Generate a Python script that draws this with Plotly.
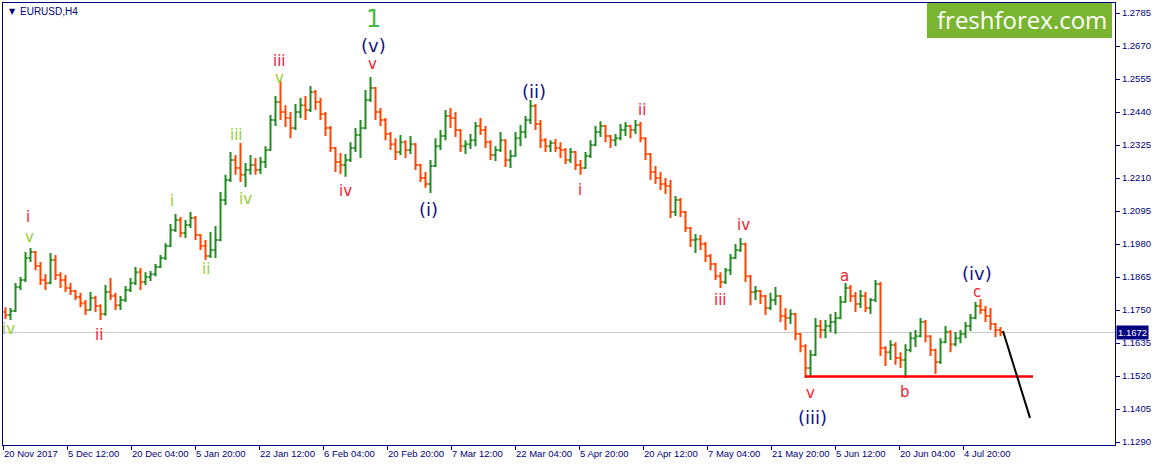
import plotly.graph_objects as go
import numpy as np

symbol = "EURUSD,H4"

# Aggregated bars (each bar = 5 H4 periods)
closes = [
    1.1733, 1.1747, 1.1830, 1.1855, 1.1931, 1.1952, 1.1903, 1.1855, 1.1844, 1.1924,
    1.1872, 1.1855, 1.1827, 1.1816, 1.1795, 1.1774, 1.1750, 1.1792, 1.1764, 1.1736,
    1.1813, 1.1799, 1.1767, 1.1785, 1.1820, 1.1844, 1.1882, 1.1848, 1.1865, 1.1875,
    1.1900, 1.1931, 1.1973, 1.2029, 1.2064, 1.2018, 1.2046, 1.2071, 1.2011, 1.1973,
    1.1938, 1.1959, 1.1994, 1.2133, 1.2203, 1.2273, 1.2245, 1.2221, 1.2238, 1.2255,
    1.2238, 1.2266, 1.2308, 1.2412, 1.2475, 1.2440, 1.2419, 1.2384, 1.2440, 1.2464,
    1.2447, 1.2510, 1.2475, 1.2433, 1.2384, 1.2315, 1.2266, 1.2255, 1.2273, 1.2315,
    1.2360, 1.2384, 1.2482, 1.2524, 1.2440, 1.2412, 1.2363, 1.2328, 1.2301, 1.2335,
    1.2308, 1.2328, 1.2255, 1.2210, 1.2189, 1.2252, 1.2321, 1.2356, 1.2426, 1.2419,
    1.2377, 1.2321, 1.2328, 1.2342, 1.2391, 1.2377, 1.2335, 1.2290, 1.2308, 1.2342,
    1.2273, 1.2287, 1.2349, 1.2370, 1.2412, 1.2461, 1.2398, 1.2342, 1.2321, 1.2332,
    1.2315, 1.2308, 1.2273, 1.2301, 1.2255, 1.2245, 1.2287, 1.2325, 1.2370, 1.2391,
    1.2356, 1.2342, 1.2349, 1.2377, 1.2391, 1.2377, 1.2395, 1.2349, 1.2294, 1.2231,
    1.2210, 1.2189, 1.2182, 1.2092, 1.2133, 1.2092, 1.2036, 1.1994, 1.1997, 1.1980,
    1.1938, 1.1910, 1.1868, 1.1848, 1.1889, 1.1931, 1.1959, 1.1980, 1.1868, 1.1813,
    1.1816, 1.1799, 1.1757, 1.1785, 1.1799, 1.1729, 1.1722, 1.1736, 1.1666, 1.1624,
    1.1548, 1.1593, 1.1694, 1.1680, 1.1694, 1.1708, 1.1722, 1.1778, 1.1827, 1.1799,
    1.1771, 1.1799, 1.1757, 1.1785, 1.1841, 1.1618, 1.1603, 1.1628, 1.1583, 1.1576,
    1.1611, 1.1652, 1.1659, 1.1708, 1.1659, 1.1611, 1.1569, 1.1638, 1.1673, 1.1631,
    1.1652, 1.1666, 1.1694, 1.1722, 1.1764, 1.1750, 1.1729, 1.1701, 1.1680, 1.1672,
]
highs = [
    1.1760, 1.1757, 1.1844, 1.1865, 1.1952, 1.1966, 1.1956, 1.1917, 1.1875, 1.1949,
    1.1942, 1.1882, 1.1872, 1.1844, 1.1820, 1.1810, 1.1785, 1.1813, 1.1800, 1.1770,
    1.1837, 1.1862, 1.1810, 1.1799, 1.1834, 1.1862, 1.1900, 1.1896, 1.1882, 1.1886,
    1.1910, 1.1942, 1.1983, 1.2050, 1.2085, 1.2074, 1.2064, 1.2092, 1.2078, 1.2015,
    1.1994, 1.2022, 1.2043, 1.2161, 1.2221, 1.2301, 1.2290, 1.2332, 1.2262, 1.2290,
    1.2280, 1.2283, 1.2321, 1.2430, 1.2496, 1.2548, 1.2464, 1.2440, 1.2468, 1.2489,
    1.2496, 1.2531, 1.2517, 1.2489, 1.2440, 1.2391, 1.2318, 1.2297, 1.2294, 1.2335,
    1.2384, 1.2412, 1.2517, 1.2562, 1.2527, 1.2454, 1.2419, 1.2370, 1.2349, 1.2360,
    1.2342, 1.2356, 1.2332, 1.2259, 1.2231, 1.2273, 1.2349, 1.2377, 1.2447, 1.2454,
    1.2440, 1.2380, 1.2342, 1.2363, 1.2405, 1.2419, 1.2391, 1.2342, 1.2321, 1.2370,
    1.2345, 1.2308, 1.2370, 1.2395, 1.2426, 1.2482, 1.2468, 1.2412, 1.2349, 1.2342,
    1.2346, 1.2335, 1.2315, 1.2315, 1.2304, 1.2273, 1.2301, 1.2342, 1.2391, 1.2408,
    1.2395, 1.2360, 1.2363, 1.2398, 1.2405, 1.2395, 1.2412, 1.2405, 1.2352, 1.2297,
    1.2252, 1.2231, 1.2210, 1.2203, 1.2147, 1.2140, 1.2095, 1.2039, 1.2015, 1.2011,
    1.1987, 1.1945, 1.1914, 1.1882, 1.1896, 1.1945, 1.1980, 1.2001, 1.1984, 1.1872,
    1.1834, 1.1820, 1.1802, 1.1810, 1.1830, 1.1802, 1.1757, 1.1753, 1.1740, 1.1670,
    1.1631, 1.1611, 1.1722, 1.1715, 1.1715, 1.1736, 1.1743, 1.1799, 1.1844, 1.1837,
    1.1813, 1.1820, 1.1813, 1.1792, 1.1855, 1.1848, 1.1624, 1.1645, 1.1638, 1.1603,
    1.1631, 1.1673, 1.1680, 1.1722, 1.1715, 1.1662, 1.1615, 1.1652, 1.1694, 1.1680,
    1.1673, 1.1680, 1.1708, 1.1736, 1.1778, 1.1788, 1.1764, 1.1757, 1.1705, 1.1691,
]
lows = [
    1.1719, 1.1715, 1.1743, 1.1820, 1.1848, 1.1917, 1.1889, 1.1837, 1.1820, 1.1840,
    1.1855, 1.1827, 1.1813, 1.1802, 1.1785, 1.1760, 1.1733, 1.1748, 1.1743, 1.1715,
    1.1730, 1.1785, 1.1750, 1.1750, 1.1778, 1.1813, 1.1837, 1.1820, 1.1837, 1.1851,
    1.1868, 1.1896, 1.1924, 1.1970, 1.2022, 1.2004, 1.2001, 1.2036, 1.1994, 1.1959,
    1.1924, 1.1931, 1.1931, 1.1990, 1.2116, 1.2196, 1.2221, 1.2196, 1.2179, 1.2221,
    1.2221, 1.2224, 1.2245, 1.2305, 1.2391, 1.2412, 1.2388, 1.2349, 1.2377, 1.2419,
    1.2412, 1.2440, 1.2447, 1.2412, 1.2356, 1.2301, 1.2231, 1.2224, 1.2214, 1.2266,
    1.2301, 1.2280, 1.2380, 1.2475, 1.2412, 1.2391, 1.2342, 1.2308, 1.2273, 1.2290,
    1.2280, 1.2294, 1.2238, 1.2196, 1.2176, 1.2158, 1.2248, 1.2308, 1.2342, 1.2384,
    1.2353, 1.2301, 1.2294, 1.2311, 1.2321, 1.2360, 1.2315, 1.2273, 1.2269, 1.2301,
    1.2248, 1.2245, 1.2284, 1.2321, 1.2349, 1.2398, 1.2377, 1.2315, 1.2301, 1.2301,
    1.2301, 1.2280, 1.2259, 1.2262, 1.2238, 1.2221, 1.2242, 1.2280, 1.2321, 1.2353,
    1.2335, 1.2315, 1.2321, 1.2342, 1.2356, 1.2349, 1.2363, 1.2335, 1.2273, 1.2203,
    1.2189, 1.2168, 1.2154, 1.2071, 1.2078, 1.2074, 1.2022, 1.1970, 1.1949, 1.1959,
    1.1917, 1.1889, 1.1855, 1.1827, 1.1841, 1.1872, 1.1928, 1.1952, 1.1848, 1.1767,
    1.1785, 1.1771, 1.1733, 1.1750, 1.1767, 1.1708, 1.1680, 1.1701, 1.1645, 1.1603,
    1.1513, 1.1520, 1.1590, 1.1652, 1.1652, 1.1673, 1.1666, 1.1718, 1.1775, 1.1778,
    1.1743, 1.1757, 1.1743, 1.1736, 1.1778, 1.1590, 1.1555, 1.1576, 1.1559, 1.1548,
    1.1513, 1.1603, 1.1621, 1.1655, 1.1638, 1.1590, 1.1527, 1.1562, 1.1634, 1.1603,
    1.1624, 1.1634, 1.1652, 1.1677, 1.1718, 1.1736, 1.1708, 1.1680, 1.1655, 1.1659,
]
first_open = 1.1743
opens = [first_open] + closes[:-1]

# time axis: H4 bar numbers; each stored bar covers 5 H4 periods
h4_per_bar = 5
date_labels = ["20 Nov 2017", "5 Dec 12:00", "20 Dec 04:00", "5 Jan 20:00", "22 Jan 12:00",
               "6 Feb 04:00", "20 Feb 20:00", "7 Mar 12:00", "22 Mar 04:00", "5 Apr 20:00",
               "20 Apr 12:00", "7 May 04:00", "21 May 20:00", "5 Jun 12:00", "20 Jun 04:00",
               "4 Jul 20:00"]
date_label_bars = [0, 64, 128, 192, 256, 320, 384, 448, 512, 576, 640, 704, 768, 832, 896, 960]
price_ticks = [1.2785, 1.2670, 1.2555, 1.2440, 1.2325, 1.2210, 1.2095, 1.1980,
               1.1865, 1.1750, 1.1635, 1.1520, 1.1405, 1.1290]
last_price = 1.1672

support_level = 1.1518
support_bars = [802, 1030]
forecast_bars = [1000, 1027]
forecast_prices = [1.1677, 1.1374]

# wave labels: (H4 bar, price, text, style)
wave_labels = [
    (5, 1.1684, "iv", "g"), (26, 1.2004, "v", "g"), (25, 1.2074, "i", "r"),
    (96, 1.1663, "ii", "r"), (169, 1.2130, "i", "g"), (203, 1.1893, "ii", "g"),
    (233, 1.2360, "iii", "g"), (242, 1.2137, "iv", "g"), (276, 1.2617, "iii", "r"),
    (276, 1.2560, "v", "g"), (342, 1.2165, "iv", "r"), (370, 1.2764, "1", "big"),
    (370, 1.2673, "(v)", "n"), (369, 1.2607, "v", "r"), (425, 1.2099, "(i)", "n"),
    (531, 1.2513, "(ii)", "n"), (577, 1.2168, "i", "r"), (639, 1.2447, "ii", "r"),
    (740, 1.2046, "iv", "r"), (717, 1.1785, "iii", "r"), (807, 1.1461, "v", "r"),
    (809, 1.1377, "(iii)", "n"), (841, 1.1868, "a", "r"), (902, 1.1464, "b", "r"),
    (974, 1.1813, "c", "r"), (974, 1.1879, "(iv)", "n"),
]

label_styles = {
    "g": dict(color="#9ACD32", size=15),
    "r": dict(color="#F5202E", size=15),
    "n": dict(color="#14148C", size=18),
    "big": dict(color="#44B944", size=24),
}

NAVY = "#000080"
x = np.arange(len(closes)) * h4_per_bar + h4_per_bar / 2

fig = go.Figure()
fig.add_trace(go.Ohlc(
    x=x, open=opens, high=highs, low=lows, close=closes,
    increasing=dict(line=dict(color="#228B22", width=2.0)),
    decreasing=dict(line=dict(color="#FF4500", width=2.0)),
    tickwidth=0.42, hoverinfo="skip", showlegend=False,
))
fig.add_trace(go.Scatter(
    x=support_bars, y=[support_level, support_level], mode="lines",
    line=dict(color="#FF0000", width=2.5), showlegend=False, hoverinfo="skip"))
fig.add_trace(go.Scatter(
    x=forecast_bars, y=forecast_prices, mode="lines",
    line=dict(color="#000000", width=2), showlegend=False, hoverinfo="skip"))

shapes = [
    dict(type="line", xref="paper", yref="y", x0=0, x1=1, y0=last_price, y1=last_price,
         line=dict(color="#C8C8C8", width=1), layer="below"),
    dict(type="rect", xref="paper", yref="paper", x0=0.8309, x1=0.9973, y0=0.9208, y1=1.0,
         fillcolor="#7AB531", line=dict(width=0), layer="above"),
]

annotations = []
for bar, price, text, st in wave_labels:
    s = label_styles[st]
    annotations.append(dict(x=bar, y=price, xref="x", yref="y", text=text, showarrow=False,
                            font=dict(family="DejaVu Sans", size=s["size"], color=s["color"]),
                            xanchor="center", yanchor="middle"))
annotations += [
    dict(xref="paper", yref="paper", x=0.9164, y=0.9625, text="freshforex.com", showarrow=False,
         font=dict(family="Open Sans", size=24, color="white"), xanchor="center", yanchor="middle"),
    dict(xref="paper", yref="paper", x=0.0036, y=0.981, text="▼", showarrow=False,
         font=dict(family="DejaVu Sans", size=8, color=NAVY), xanchor="left", yanchor="middle"),
    dict(xref="paper", yref="paper", x=0.0135, y=0.981, text=symbol, showarrow=False,
         font=dict(family="Liberation Sans", size=10, color=NAVY), xanchor="left", yanchor="middle"),
    dict(xref="paper", yref="y", x=1, y=last_price, text=f"{last_price:.4f}", showarrow=False,
         font=dict(family="Liberation Sans", size=9.5, color="white"), bgcolor=NAVY,
         xanchor="left", yanchor="middle", xshift=1, borderpad=1),
]

fig.update_layout(
    width=1155, height=466,
    margin=dict(l=3, r=40, t=3, b=21),
    paper_bgcolor="white", plot_bgcolor="white",
    shapes=shapes, annotations=annotations,
    showlegend=False,
    xaxis=dict(range=[0, 1112], showgrid=False, zeroline=False,
               showline=True, linecolor=NAVY, linewidth=1, mirror=True,
               tickmode="array", tickvals=date_label_bars, ticktext=date_labels,
               ticks="outside", ticklen=4, tickcolor=NAVY, tickangle=0,
               ticklabelposition="outside right",
               tickfont=dict(family="Liberation Sans", size=9.5, color=NAVY),
               rangeslider=dict(visible=False), fixedrange=True),
    yaxis=dict(range=[1.12796, 1.28199], side="right", showgrid=False, zeroline=False,
               showline=True, linecolor=NAVY, linewidth=1, mirror=True,
               tickmode="array", tickvals=price_ticks,
               ticktext=[f"{v:.4f}" for v in price_ticks],
               ticks="outside", ticklen=4, tickcolor=NAVY,
               tickfont=dict(family="Liberation Sans", size=9.5, color=NAVY), fixedrange=True),
)

fig.write_html("out.html", config={"displayModeBar": False},
               post_script="document.body.style.margin='0px';")
